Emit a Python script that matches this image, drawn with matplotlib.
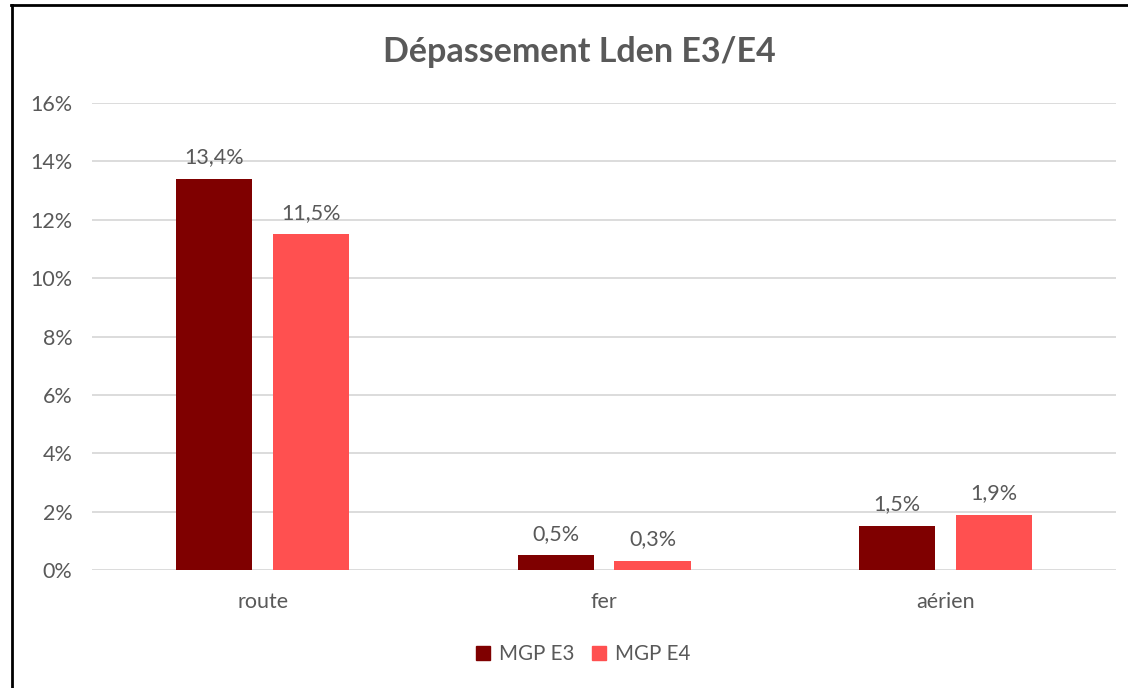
import numpy as np
import matplotlib.pyplot as plt
from matplotlib.lines import Line2D

plt.rcParams['font.family'] = ['Lato', 'DejaVu Sans']

categories = ['route', 'fer', 'aérien']
series = ['MGP E3', 'MGP E4']
e3 = [13.4, 0.5, 1.5]
e4 = [11.5, 0.3, 1.9]
colors = ['#7F0000', '#FF5050']
yticks = [0, 2, 4, 6, 8, 10, 12, 14, 16]

fig = plt.figure(figsize=(11.28, 6.88), dpi=100)
ax = fig.add_axes([0.0816, 0.1715, 0.9078, 0.6788])

x = np.arange(len(categories))
w = 0.223
off = 0.142
grey = '#595959'
fs = 15.5

for vals, dx, c, lab in zip([e3, e4], [-off, off], colors, series):
    bars = ax.bar(x + dx, vals, w, color=c, label=lab, zorder=3)
    for b, v in zip(bars, vals):
        ax.text(b.get_x() + b.get_width() / 2, v + 0.4,
                f'{v:.1f}%'.replace('.', ','), ha='center', va='bottom',
                fontsize=fs, color=grey)

ax.set_xlim(-0.5, 2.5)
ax.set_ylim(0, 16)
ax.set_yticks(yticks)
ax.set_yticklabels([f'{t}%' for t in yticks])
ax.set_xticks(x)
ax.set_xticklabels(categories)
ax.tick_params(axis='both', length=0, labelsize=fs, labelcolor=grey)
ax.tick_params(axis='y', pad=14)
ax.tick_params(axis='x', pad=16)
ax.grid(axis='y', color='#D9D9D9', linewidth=1.3, zorder=0)
for s in ax.spines.values():
    s.set_visible(False)

fig.text(0.514, 0.925, 'Dépassement Lden E3/E4', ha='center', va='center',
         fontsize=24.5, fontweight='bold', color=grey)

handles = [plt.Rectangle((0, 0), 1, 1, color=c) for c in colors]
fig.legend(handles, series, loc='center', bbox_to_anchor=(0.517, 0.049),
           ncol=2, frameon=False, fontsize=14.8, labelcolor=grey,
           handlelength=0.68, handleheight=0.68, handletextpad=0.4,
           columnspacing=0.9)

# cadre autour du graphique
fig.add_artist(Line2D([11 / 1128, 1], [1 - 5 / 688, 1 - 5 / 688],
                      color='black', linewidth=2, transform=fig.transFigure))
fig.add_artist(Line2D([12 / 1128, 12 / 1128], [0, 1 - 5 / 688],
                      color='black', linewidth=2, transform=fig.transFigure))

fig.savefig('out.png', dpi=100)
